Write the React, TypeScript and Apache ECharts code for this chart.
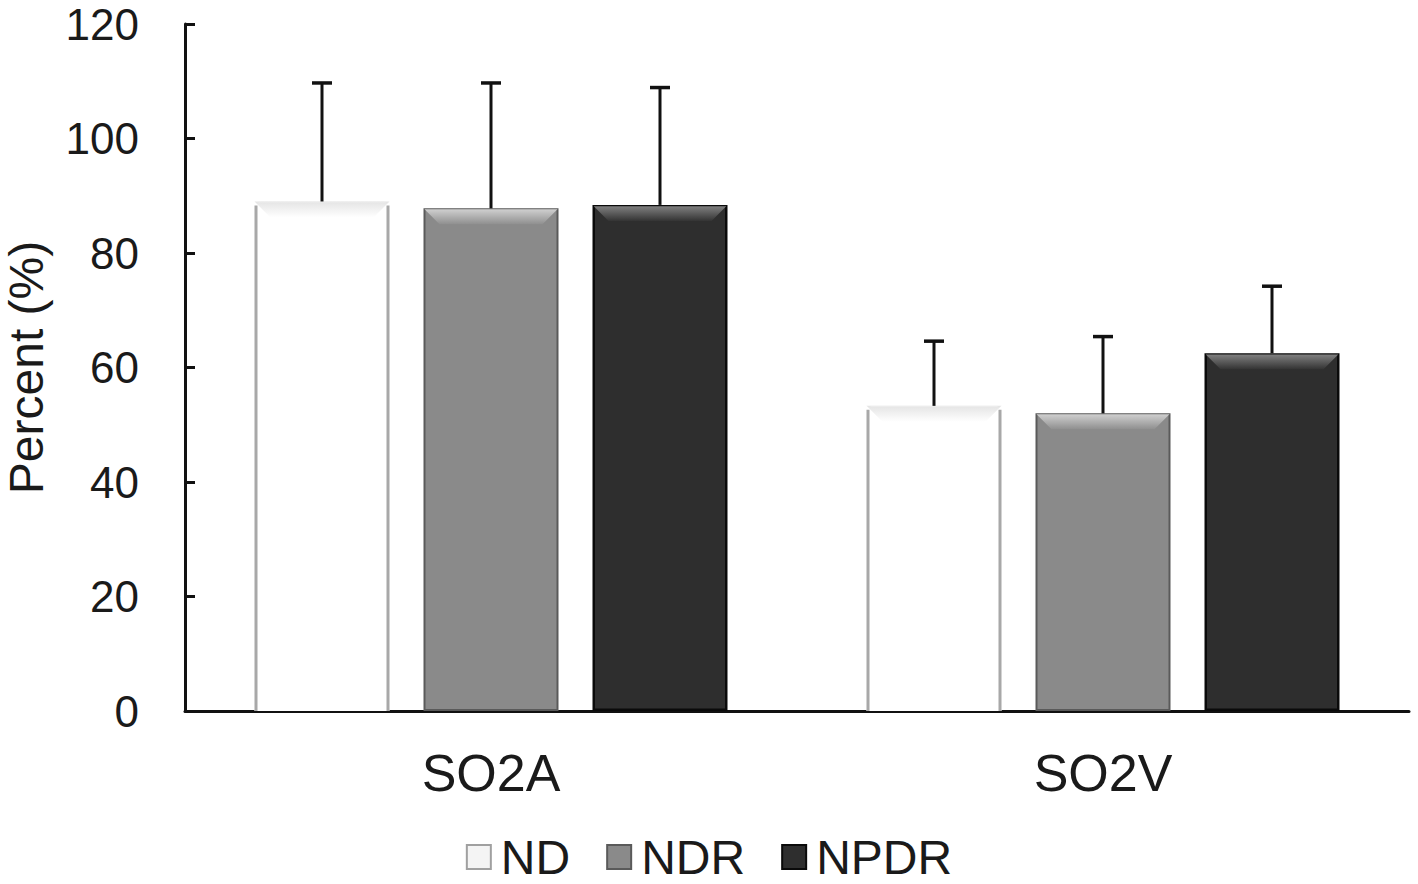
import React, { useEffect, useRef } from "react";
import * as echarts from "echarts";

const categories = ["SO2A", "SO2V"];
const seriesNames = ["ND", "NDR", "NPDR"];
const ndValues = [89.0, 53.3];
const ndrValues = [87.8, 52.0];
const npdrValues = [88.4, 62.5];
const ndErr = [20.7, 11.3];
const ndrErr = [21.9, 13.4];
const npdrErr = [20.5, 11.7];
const yTicks = [0, 20, 40, 60, 80, 100, 120];

const BAR_W = 135;
const GAP = 34;

const styles = [
  { fill: "#ffffff", border: "#ffffff", borderW: 0, topA: "#e4e4e4", topB: "#ffffff", side: "#a8a8a8" },
  { fill: "#8a8a8a", border: "#5a5a5a", borderW: 2, topA: "#cfcfcf", topB: "#8f8f8f", side: "" },
  { fill: "#2e2e2e", border: "#0a0a0a", borderW: 2.5, topA: "#808080", topB: "#343434", side: "" },
];

export default function App() {
  const ref = useRef<HTMLDivElement>(null);
  useEffect(() => {
    if (!ref.current) return;
    const chart = echarts.init(ref.current, null, { renderer: "svg" });
    const values = [ndValues, ndrValues, npdrValues];
    const errs = [ndErr, ndrErr, npdrErr];
    const font = "'Liberation Sans', Arial, sans-serif";

    const barSeries = seriesNames.map((name, i) => ({
      name,
      type: "bar",
      data: values[i],
      barWidth: BAR_W,
      barGap: (GAP / BAR_W) * 100 + "%",
      itemStyle: {
        color: styles[i].fill,
        borderColor: i === 0 ? "#a8a8a8" : styles[i].border,
        borderWidth: i === 0 ? 0 : styles[i].borderW,
      },
      z: 2,
    }));

    const overlaySeries = seriesNames.map((name, i) => ({
      name: name + "_overlay",
      type: "custom",
      z: 5,
      silent: true,
      data: categories.map((_, c) => [c, values[i][c], values[i][c] + errs[i][c]]),
      renderItem: (params: any, api: any) => {
        const c = api.value(0);
        const p = api.coord([c, api.value(1)]);
        const t = api.coord([c, api.value(2)]);
        const base = api.coord([c, 0]);
        const off = (i - 1) * (BAR_W + GAP);
        const cx = p[0] + off;
        const x0 = cx - BAR_W / 2;
        const x1 = cx + BAR_W / 2;
        const y0 = p[1];
        const b = 16;
        const children: any[] = [];
        const s = styles[i];
        const inset = i === 0 ? 0 : s.borderW / 2;
        children.push({
          type: "polygon",
          shape: {
            points: [
              [x0 + inset, y0 + inset],
              [x1 - inset, y0 + inset],
              [x1 - b, y0 + b],
              [x0 + b, y0 + b],
            ],
          },
          style: {
            fill: new echarts.graphic.LinearGradient(0, 0, 0, 1, [
              { offset: 0, color: s.topA },
              { offset: 1, color: s.topB },
            ]),
          },
        });
        if (i === 0) {
          children.push({
            type: "line",
            shape: { x1: x0 + 1.5, y1: y0 + 4, x2: x0 + 1.5, y2: base[1] },
            style: { stroke: s.side, lineWidth: 3 },
          });
          children.push({
            type: "line",
            shape: { x1: x1 - 1.5, y1: y0 + 4, x2: x1 - 1.5, y2: base[1] },
            style: { stroke: s.side, lineWidth: 3 },
          });
          children.push({
            type: "line",
            shape: { x1: x0 + 4, y1: y0 + 0.5, x2: x1 - 4, y2: y0 + 0.5 },
            style: { stroke: "#eeeeee", lineWidth: 1 },
          });
        }
        children.push({
          type: "line",
          shape: { x1: cx, y1: y0, x2: cx, y2: t[1] },
          style: { stroke: "#111111", lineWidth: 3 },
        });
        children.push({
          type: "line",
          shape: { x1: cx - 10, y1: t[1], x2: cx + 10, y2: t[1] },
          style: { stroke: "#111111", lineWidth: 3.5 },
        });
        return { type: "group", children };
      },
    }));

    chart.setOption({
      animation: false,
      backgroundColor: "#ffffff",
      grid: { left: 185, right: 9, top: 24, bottom: 173, containLabel: false, outerBoundsMode: "none" },
      legend: {
        data: [
          { name: "ND", itemStyle: { color: "#f4f4f4", borderColor: "#a0a0a0", borderWidth: 2 } },
          { name: "NDR" },
          { name: "NPDR" },
        ],
        bottom: -2,
        left: "center",
        icon: "rect",
        itemWidth: 24,
        itemHeight: 24,
        itemGap: 36,
        textStyle: { fontFamily: font, fontSize: 48, color: "#1a1a1a", padding: [8, 0, 0, 5] },
      },
      xAxis: {
        type: "category",
        data: categories,
        axisLine: { lineStyle: { color: "#111111", width: 3 } },
        axisTick: { show: false },
        axisLabel: { fontFamily: font, fontSize: 52, color: "#1a1a1a", margin: 36 },
      },
      yAxis: {
        type: "value",
        min: yTicks[0],
        max: yTicks[yTicks.length - 1],
        interval: 20,
        name: "Percent (%)",
        nameLocation: "middle",
        nameGap: 139,
        nameTextStyle: { fontFamily: font, fontSize: 48, color: "#1a1a1a", lineHeight: 40 },
        axisLine: { show: true, lineStyle: { color: "#111111", width: 3 } },
        axisTick: { show: true, inside: true, length: 10, lineStyle: { color: "#111111", width: 3 } },
        splitLine: { show: false },
        axisLabel: { fontFamily: font, fontSize: 44, color: "#1a1a1a", margin: 46, lineHeight: 38 },
      },
      series: [...barSeries, ...overlaySeries],
    });
    return () => chart.dispose();
  }, []);
  return <div ref={ref} style={{ width: 1418, height: 884, position: "absolute", left: 0, top: 0 }} />;
}
